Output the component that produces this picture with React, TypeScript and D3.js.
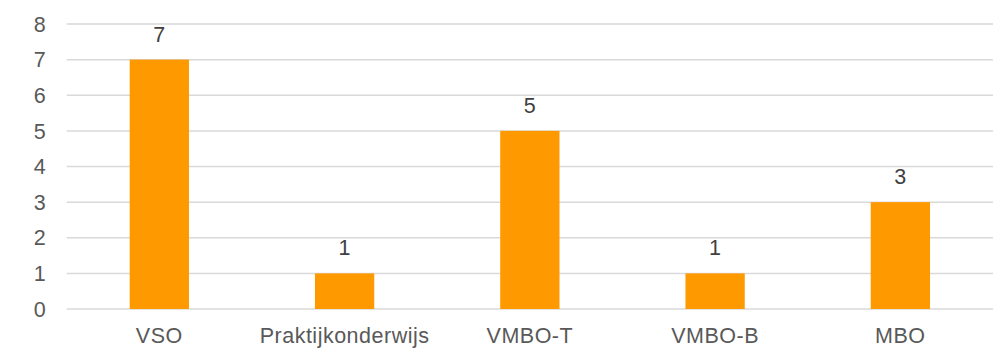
import React from "react";
import * as d3 from "d3";

const categories = ["VSO", "Praktijkonderwijs", "VMBO-T", "VMBO-B", "MBO"];
const values = [7, 1, 5, 1, 3];
const yTicks = [0, 1, 2, 3, 4, 5, 6, 7, 8];

const W = 995;
const H = 349;
const margin = { top: 24, right: 2, bottom: 40, left: 66.7 };

const App = () => {
  const svgRef = React.useRef<SVGSVGElement>(null);

  React.useEffect(() => {
    const width = W - margin.left - margin.right;
    const height = H - margin.top - margin.bottom;
    const font = "'Liberation Sans', Arial, sans-serif";
    const textColor = "#595959";
    const fontSize = "21.5px";

    const xScale = d3.scaleBand().domain(categories).range([0, width]).paddingInner(0.68).paddingOuter(0.34);
    const yScale = d3.scaleLinear().domain([0, 8]).range([height, 0]);

    const svgEl = d3.select(svgRef.current);
    svgEl.selectAll("*").remove();
    const svg = svgEl.append("g").attr("transform", `translate(${margin.left},${margin.top})`);

    // grid lines
    svg.selectAll(".grid")
      .data(yTicks)
      .enter().append("line")
      .attr("x1", 0)
      .attr("x2", width)
      .attr("y1", d => yScale(d))
      .attr("y2", d => yScale(d))
      .attr("stroke", "#d9d9d9")
      .attr("stroke-width", 1.5);

    // y labels
    svg.selectAll(".ylab")
      .data(yTicks)
      .enter().append("text")
      .attr("x", -21)
      .attr("y", d => yScale(d))
      .attr("dy", "0.36em")
      .attr("text-anchor", "end")
      .style("font-family", font)
      .style("font-size", fontSize)
      .attr("fill", textColor)
      .text(d => d);

    // bars
    svg.selectAll(".bar")
      .data(values)
      .enter().append("rect")
      .attr("x", (d, i) => xScale(categories[i])!)
      .attr("y", d => yScale(d))
      .attr("width", xScale.bandwidth())
      .attr("height", d => height - yScale(d))
      .attr("fill", "#ff9900");

    // value labels
    svg.selectAll(".vlab")
      .data(values)
      .enter().append("text")
      .attr("x", (d, i) => xScale(categories[i])! + xScale.bandwidth() / 2)
      .attr("y", d => yScale(d) - 18)
      .attr("text-anchor", "middle")
      .style("font-family", font)
      .style("font-size", fontSize)
      .attr("fill", "#404040")
      .text(d => d);

    // category labels
    svg.selectAll(".xlab")
      .data(categories)
      .enter().append("text")
      .attr("x", d => xScale(d)! + xScale.bandwidth() / 2)
      .attr("y", height + 34)
      .attr("text-anchor", "middle")
      .style("font-family", font)
      .style("font-size", fontSize)
      .style("letter-spacing", "0.5px")
      .attr("fill", textColor)
      .text(d => d);
  }, []);

  return <svg ref={svgRef} width={W} height={H} style={{ position: "absolute", left: 0, top: 0 }} />;
};

export default App;
